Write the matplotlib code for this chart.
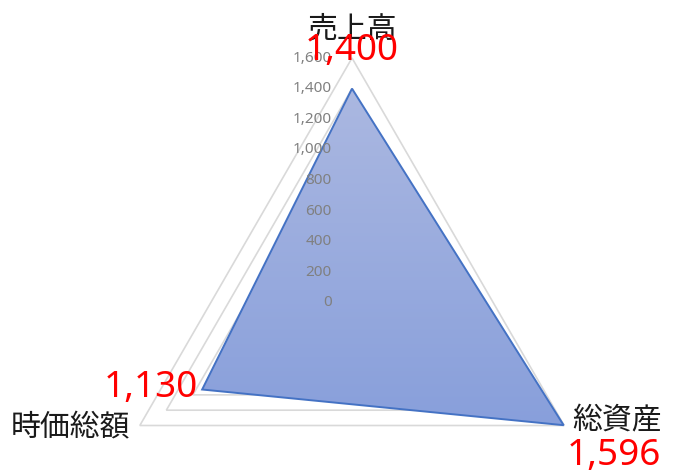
import numpy as np
import matplotlib
matplotlib.use("Agg")
import matplotlib.pyplot as plt
from matplotlib.patches import Polygon
from matplotlib.colors import LinearSegmentedColormap

# data
categories = ["売上高", "総資産", "時価総額"]
values = [1400, 1596, 1130]
value_labels = ["1,400", "1,596", "1,130"]
grid_levels = [200, 400, 600, 800, 1000, 1200, 1400, 1600]
tick_values = [0, 200, 400, 600, 800, 1000, 1200, 1400, 1600]
rmax = 1600

W, H = 679, 472
cx, cy, rpx = 352, 303, 245   # centre and outer radius in pixels
k = rmax / rpx

fig = plt.figure(figsize=(W / 100, H / 100), dpi=100)
ax = fig.add_axes([0, 0, 1, 1])
ax.axis("off")

angles = np.deg2rad([0, 120, 240])


def xy(vals):
    vals = np.asarray(vals, dtype=float)
    return np.column_stack([vals * np.sin(angles), vals * np.cos(angles)])


# grid triangles
for lv in grid_levels:
    pts = xy([lv] * 3)
    ax.add_patch(Polygon(pts, closed=True, fill=False, ec="#d9d9d9", lw=1.2, zorder=1))

# filled series with vertical gradient
pts = xy(values)
poly = Polygon(pts, closed=True, fc="none", ec="#4472c4", lw=1.4, zorder=4)
ax.add_patch(poly)
clip = Polygon(pts, closed=True, transform=ax.transData)
cmap = LinearSegmentedColormap.from_list("g", ["#abb8e1", "#889fdb"])
grad = np.linspace(0, 1, 256).reshape(-1, 1)
ymin, ymax = pts[:, 1].min(), pts[:, 1].max()
im = ax.imshow(grad, cmap=cmap, aspect="auto", origin="upper",
               extent=[pts[:, 0].min(), pts[:, 0].max(), ymin, ymax], zorder=3)
im.set_clip_path(clip)
ax.set_xlim(-cx * k, (W - cx) * k)
ax.set_ylim(-(H - cy) * k, cy * k)

# axis tick labels
for t in tick_values:
    ax.annotate(f"{t:,}", (0, t), xytext=(-14.5, 0), textcoords="offset points",
                ha="right", va="center", fontsize=11, color="#808080",
                family=["Noto Sans", "DejaVu Sans"], zorder=5)

# category labels and value labels
jp = ["Noto Sans CJK JP", "DejaVu Sans"]
cat_off = [(0, 21), (38, 3), (-50, -2)]
val_off = [(0, 5), (36, -22), (-37, 1)]
for i, (c, v, lab) in enumerate(zip(categories, values, value_labels)):
    p_out = xy([rmax] * 3)[i]
    ax.annotate(c, p_out, xytext=cat_off[i], textcoords="offset points",
                ha="center", va="center", fontsize=21.5, color="#1a1a1a",
                family=jp, zorder=6)
    p_val = xy(values)[i]
    ax.annotate(lab, p_val if i != 0 else p_out, xytext=val_off[i], textcoords="offset points",
                ha="center", va="center", fontsize=26.5, color="#ff0000",
                family=["Noto Sans", "DejaVu Sans"], zorder=7)

fig.savefig("out.png", dpi=100)
